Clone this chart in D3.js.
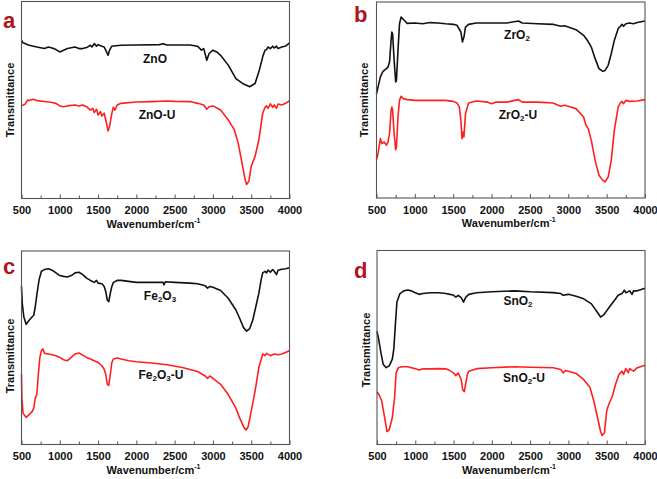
<!DOCTYPE html>
<html><head><meta charset="utf-8">
<script src="https://cdn.jsdelivr.net/npm/d3@7"></script>
<style>
html,body{margin:0;padding:0;background:#fff;}
svg{display:block;font-family:"Liberation Sans",Arial,sans-serif;}
</style></head>
<body>
<svg id="chart" width="657" height="479"></svg>
<script>
// ---------------- DATA (wavenumber cm-1, transmittance in arbitrary %) ----------------
const xTicks = [500, 1000, 1500, 2000, 2500, 3000, 3500, 4000];
const xMinorTicks = [750, 1250, 1750, 2250, 2750, 3250, 3750];
const panelLetters = ["a", "b", "c", "d"];
const seriesNames = [["ZnO", "ZnO-U"], ["ZrO2", "ZrO2-U"], ["Fe2O3", "Fe2O3-U"], ["SnO2", "SnO2-U"]];
const yLabel = "Transmittance";
const xLabel = "Wavenumber/cm";

const znoWn = [500,520,600,700,800,850,900,950,1000,1050,1100,1200,1250,1300,1350,1400,1420,1450,1480,1500,1550,1580,1600,1630,1650,1680,1700,1800,2000,2300,2350,2400,2500,2700,2800,2850,2880,2920,2950,3000,3050,3100,3200,3300,3400,3480,3550,3600,3650,3680,3700,3720,3750,3780,3800,3830,3850,3900,3950,4000];
const znoT  = [80.3,79.0,77.8,76.9,76.1,76.9,76.4,75.6,74.4,75.3,76.1,76.9,76.1,76.1,76.6,77.8,76.9,78.6,77.3,78.1,77.3,76.9,75.3,72.7,75.3,77.3,77.4,77.8,77.9,78.1,78.6,77.9,77.9,77.9,77.3,75.3,76.1,70.2,73.6,75.3,74.4,72.7,67.7,60.9,58.1,56.7,58.4,64.3,71.9,75.3,75.6,76.9,76.1,77.3,76.4,77.3,76.1,76.9,77.4,79.0];

const znoUWn = [500,550,580,600,650,700,800,900,950,1000,1050,1100,1200,1250,1300,1350,1400,1430,1450,1480,1500,1530,1550,1580,1610,1630,1650,1680,1700,1720,1750,1800,2000,2200,2400,2500,2700,2800,2880,2920,2950,3000,3100,3200,3280,3330,3380,3420,3440,3470,3500,3550,3600,3650,3680,3700,3720,3750,3780,3800,3830,3850,3900,3950,4000];
const znoUT  = [47.0,48.0,50.0,49.7,50.4,49.7,49.2,48.7,48.3,47.0,46.6,47.0,47.5,47.0,47.5,46.6,44.9,45.8,43.6,45.3,42.4,44.1,41.9,43.3,38.2,34.3,36.5,43.3,46.3,44.9,47.5,48.3,49.0,49.2,49.5,49.3,49.2,48.3,47.5,45.3,46.6,47.0,44.9,39.9,34.8,28.1,18.0,9.6,7.1,8.8,16.3,21.4,29.8,43.3,46.3,47.0,45.8,48.0,46.3,47.5,45.8,48.0,47.5,48.3,49.7];

const zro2Wn = [500,520,550,580,600,630,650,670,690,700,710,730,750,760,780,800,820,840,870,900,1000,1100,1200,1300,1400,1500,1550,1600,1620,1640,1660,1700,1800,2000,2200,2350,2400,2600,2800,2900,2950,3000,3100,3200,3250,3300,3350,3400,3450,3480,3520,3560,3600,3650,3680,3700,3720,3750,3800,3850,3900,4000];
const zro2T  = [53.2,56.6,61.7,64.3,65.1,66.0,66.8,69.4,80.4,84.7,83.8,70.2,59.2,60.0,75.3,88.9,92.3,91.5,90.3,89.1,89.3,88.9,89.5,89.3,88.9,88.6,88.1,84.7,79.6,82.1,87.2,88.6,89.3,89.3,89.3,90.3,89.3,88.9,88.6,87.6,87.9,87.2,85.9,83.0,80.4,77.0,71.1,66.0,64.6,65.1,67.7,73.6,80.4,86.4,87.6,88.6,87.6,88.9,89.3,88.9,89.5,90.3];

const zro2UWn = [500,520,550,570,600,630,650,670,690,700,710,730,750,760,780,800,820,850,900,1000,1200,1400,1500,1550,1580,1600,1615,1630,1640,1660,1700,1800,1950,2000,2050,2200,2350,2400,2600,2800,2900,2950,3000,3100,3200,3230,3260,3300,3350,3400,3450,3480,3520,3560,3600,3650,3680,3700,3720,3750,3800,3900,4000];
const zro2UT  = [19.6,22.6,30.3,27.7,28.6,26.9,28.6,32.8,44.7,46.4,44.7,32.8,24.7,26.0,41.3,49.8,51.9,50.7,50.2,49.8,49.8,49.8,49.3,48.5,46.4,39.6,30.3,33.7,31.1,43.0,48.5,49.5,48.9,48.1,48.9,48.9,50.2,48.9,48.9,48.5,46.8,47.3,46.8,45.6,41.3,37.1,35.4,29.4,19.2,11.6,9.0,8.2,10.7,19.2,34.5,46.4,48.5,49.3,48.1,49.8,49.3,49.5,50.2];

const fe2o3Wn = [500,510,530,560,600,640,660,680,700,730,760,800,850,900,950,1000,1050,1100,1150,1200,1250,1300,1350,1400,1450,1480,1500,1550,1580,1600,1620,1640,1660,1680,1700,1750,1800,1900,2000,2200,2350,2360,2380,2500,2700,2800,2900,2930,2960,3000,3100,3200,3300,3350,3400,3440,3480,3520,3560,3600,3630,3650,3680,3700,3720,3750,3780,3800,3830,3850,3900,3950,4000];
const fe2o3T  = [81.7,72.9,66.0,62.1,64.2,66.0,66.8,71.2,77.3,85.2,89.5,90.4,90.8,90.1,88.7,87.3,86.9,86.6,87.3,88.7,89.0,87.8,86.0,84.8,83.8,84.8,83.4,83.1,81.7,79.1,74.7,73.8,78.2,81.7,83.8,84.8,84.8,84.3,83.8,83.8,83.8,82.5,84.1,83.8,83.4,83.1,82.0,80.8,81.7,81.3,79.6,75.6,69.5,65.1,60.4,58.6,59.9,64.2,71.2,78.2,85.2,88.7,89.5,88.7,90.1,89.0,90.4,89.5,87.8,90.1,90.6,90.8,91.3];

const fe2o3UWn = [500,505,520,560,600,640,660,680,700,720,740,760,780,800,850,900,950,1000,1050,1100,1150,1200,1250,1300,1350,1400,1450,1500,1550,1580,1600,1620,1640,1660,1680,1700,1750,1800,1900,2000,2200,2400,2600,2800,2900,2930,2960,3000,3100,3200,3300,3350,3400,3430,3460,3500,3550,3600,3650,3680,3700,3750,3800,3850,3900,4000];
const fe2o3UT  = [36.3,24.1,16.2,14.0,15.4,17.1,18.8,24.1,25.8,36.3,45.0,48.5,49.4,47.1,46.8,46.4,45.9,45.0,43.8,43.3,45.0,46.8,47.3,46.2,45.0,44.2,43.3,42.4,40.7,38.9,36.3,31.1,30.5,36.3,42.4,44.2,44.7,44.2,43.3,42.8,42.1,41.2,39.8,37.7,35.4,34.2,35.4,34.2,31.1,25.8,18.8,13.6,9.2,7.5,9.2,17.1,27.6,39.8,46.8,45.9,47.1,45.9,46.8,46.4,46.8,48.5];

const sno2Wn = [500,520,550,580,620,660,700,720,740,760,800,850,900,950,1000,1050,1100,1200,1300,1400,1450,1500,1530,1560,1600,1630,1660,1700,1800,2000,2300,2500,2800,2900,2930,3000,3100,3200,3300,3380,3420,3460,3500,3550,3600,3650,3700,3730,3750,3800,3830,3850,3900,4000];
const sno2T  = [58.3,54.7,47.6,41.4,39.6,40.5,44.0,49.4,61.8,73.4,77.8,79.2,79.6,79.2,78.2,77.4,77.8,78.2,78.2,77.8,77.4,76.9,76.0,76.9,75.7,73.4,76.0,77.4,78.2,78.7,79.2,78.7,78.3,77.8,76.9,77.4,76.4,75.1,72.5,68.0,65.7,66.8,68.9,71.6,74.2,76.9,77.8,79.6,78.2,79.2,77.4,79.2,79.2,80.5];

const sno2UWn = [500,530,560,600,630,660,700,730,750,780,820,900,950,1000,1050,1100,1200,1300,1400,1450,1500,1530,1560,1600,1620,1640,1660,1680,1700,1800,2000,2300,2500,2800,2900,2930,2960,3000,3100,3200,3280,3330,3380,3420,3440,3470,3500,3530,3570,3620,3660,3700,3720,3750,3780,3800,3850,3900,4000];
const sno2UT  = [27.2,25.4,22.7,13.9,6.7,7.6,13.9,24.5,36.9,39.6,40.1,40.1,39.6,39.0,38.4,39.0,39.0,39.1,39.0,38.1,36.9,35.5,36.9,33.4,28.1,27.2,31.6,36.1,37.8,39.1,39.6,40.1,39.8,39.6,38.7,36.9,38.1,37.8,36.6,33.4,29.5,22.7,13.9,6.7,4.6,5.9,17.4,21.0,24.5,31.6,36.1,37.8,36.1,39.1,37.0,39.1,37.8,39.6,40.9];

const seriesData = [
  [[znoWn, znoT], [znoUWn, znoUT]],
  [[zro2Wn, zro2T], [zro2UWn, zro2UT]],
  [[fe2o3Wn, fe2o3T], [fe2o3UWn, fe2o3UT]],
  [[sno2Wn, sno2T], [sno2UWn, sno2UT]]
];

// ---------------- LAYOUT ----------------
const panels = [
  {l: 21.5, r: 289.5, t: 1.5, b: 198.5, letter: [3, 28], ylab: [10, 100],
   lab: [[155, 65], [157, 121]]},
  {l: 376.5, r: 645, t: 2, b: 198, letter: [354, 22], ylab: [364, 100],
   lab: [[517, 41], [518, 121]]},
  {l: 21.5, r: 289.5, t: 251, b: 444.5, letter: [3, 274], ylab: [10, 356],
   lab: [[160, 302], [161, 381]]},
  {l: 377, r: 645, t: 250.5, b: 444.5, letter: [354, 278], ylab: [366, 350],
   lab: [[518, 307], [524, 384]]}
];
const colors = ["#111111", "#ff1f1f"];

const svg = d3.select("#chart");

function addFormula(sel, name) {
  // render digits as subscripts
  const parts = name.match(/(\d+|[^\d]+)/g);
  parts.forEach(p => {
    if (/^\d+$/.test(p)) {
      sel.append("tspan").attr("font-size", "8px").attr("dy", "2").text(p);
    } else {
      sel.append("tspan").attr("dy", sel.selectAll("tspan").size() > 0 ? "-2" : "0").text(p);
    }
  });
}

panels.forEach((P, i) => {
  const g = svg.append("g");
  const x = d3.scaleLinear().domain([500, 4000]).range([P.l, P.r]);
  const y = d3.scaleLinear().domain([0, 100]).range([P.b, P.t]);

  // lines
  const line = d3.line().x(d => x(d[0])).y(d => y(d[1]));
  seriesData[i].forEach((s, k) => {
    const pts = s[0].map((w, j) => [w, s[1][j]]);
    g.append("path").datum(pts).attr("d", line)
      .attr("fill", "none").attr("stroke", colors[k])
      .attr("stroke-width", 1.6).attr("stroke-linejoin", "round");
  });

  // frame
  g.append("rect").attr("x", P.l).attr("y", P.t)
    .attr("width", P.r - P.l).attr("height", P.b - P.t)
    .attr("fill", "none").attr("stroke", "#555").attr("stroke-width", 1.1);

  // x axis (ticks inward)
  const ax = d3.axisBottom(x).tickValues(xTicks).tickSizeInner(-4).tickSizeOuter(0).tickPadding(8).tickFormat(d3.format("d"));
  const axG = g.append("g").attr("transform", `translate(0,${P.b})`).call(ax);
  axG.select(".domain").remove();
  axG.selectAll("line").attr("stroke", "#555");
  axG.selectAll("text").attr("font-size", "11px").attr("font-weight", "bold")
     .attr("fill", "#111").attr("font-family", "'Liberation Sans', Arial, sans-serif");
  const axMinor = d3.axisBottom(x).tickValues(xMinorTicks).tickSizeInner(-3).tickSizeOuter(0).tickFormat("");
  const axm = g.append("g").attr("transform", `translate(0,${P.b})`).call(axMinor);
  axm.select(".domain").remove();
  axm.selectAll("line").attr("stroke", "#555");

  // x title
  const xt = g.append("text").attr("x", (P.l + P.r) / 2 - 2).attr("y", P.b + 29)
    .attr("text-anchor", "middle").attr("font-size", "11px").attr("font-weight", "bold").attr("fill", "#111");
  xt.append("tspan").text(xLabel);
  xt.append("tspan").attr("font-size", "7px").attr("dy", "-5").text("-1");

  // y title
  g.append("text").attr("transform", `translate(${P.ylab[0] + 4},${P.ylab[1]}) rotate(-90)`)
    .attr("text-anchor", "middle").attr("font-size", "11px").attr("font-weight", "bold").attr("fill", "#111")
    .text(yLabel);

  // panel letter
  g.append("text").attr("x", P.letter[0]).attr("y", P.letter[1])
    .attr("font-size", "22px").attr("font-weight", "bold").attr("fill", "#b0141c")
    .attr("font-family", "'Liberation Sans', Arial, sans-serif")
    .text(panelLetters[i]);

  // series labels
  seriesNames[i].forEach((nm, k) => {
    const t = g.append("text").attr("x", P.lab[k][0]).attr("y", P.lab[k][1])
      .attr("text-anchor", "middle").attr("font-size", "12px").attr("font-weight", "bold").attr("fill", "#111");
    addFormula(t, nm);
  });
});
</script>
</body></html>
